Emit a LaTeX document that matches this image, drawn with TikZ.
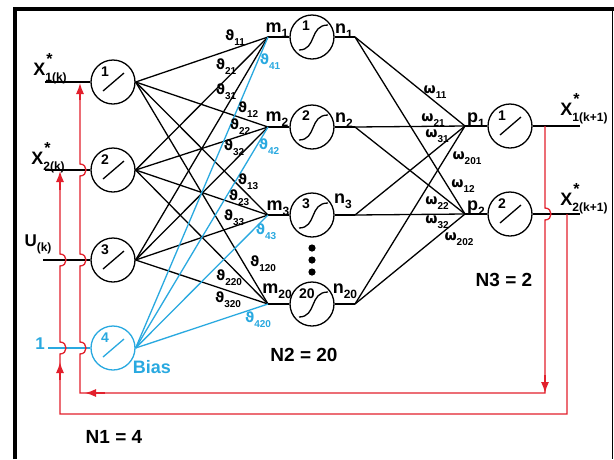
\documentclass[tikz,border=0pt]{standalone}
\usepackage{fontspec}
\setmainfont{Liberation Sans}
\newfontfamily\gk{DejaVu Sans}
\usetikzlibrary{arrows.meta}
\definecolor{cy}{HTML}{29A9E0}
\definecolor{rd}{HTML}{E2202C}
\newcommand\sbs[1]{\raisebox{-0.35em}{\fontsize{10}{10}\selectfont #1}}
\newcommand\wvt[1]{{\gk ϑ}\sbs{#1}}
\newcommand\wom[1]{{\gk ω}\sbs{#1}}
\newcommand\xlab[1]{X\rlap{\hspace{1pt}\raisebox{0.62em}{\fontsize{16}{16}\selectfont *}}\raisebox{-0.32em}{\fontsize{12}{12}\selectfont #1}}
\newcommand\msub[2]{#1\raisebox{-0.3em}{\fontsize{12}{12}\selectfont #2}}
\begin{document}
\begin{tikzpicture}[x=1pt,y=-1pt,
  every node/.style={font=\bfseries, inner sep=0pt},
  neu/.style={circle, draw, line width=1.3pt, minimum size=44pt, inner sep=0pt},
  wire/.style={line width=1.3pt, line join=round},
  cwire/.style={wire, draw=cy},
  rwire/.style={line width=1.3pt, draw=rd},
  rarrow/.style={rd, line width=1.3pt, -{Latex[length=11pt,width=8pt]}},
  numf/.style={font=\bfseries\fontsize{14}{14}\selectfont},
  wl/.style={font=\bfseries\fontsize{14}{14}\selectfont},
  bigl/.style={font=\bfseries\fontsize{18}{18}\selectfont},
  nl/.style={font=\bfseries\fontsize{19}{19}\selectfont}]
\useasboundingbox (0,0) rectangle (614,459);
\fill[white] (0,0) rectangle (614,459);
% frame
\draw[line width=3.5pt] (15,459) -- (15,9) -- (614,9);
\draw[line width=1pt] (612,9) -- (612,459);

% input neurons
\foreach \n/\y in {1/82,2/170,3/260}{
  \node[neu] (i\n) at (113,\y) {};
  \draw[wire] ([shift={(-10,9)}]i\n.center) -- ([shift={(11,-9)}]i\n.center);
  \node[numf] at ([shift={(-8,-10)}]i\n.center) {\n};
}
\node[neu, draw=cy] (i4) at (113,348) {};
\draw[cwire] ([shift={(-10,9)}]i4.center) -- ([shift={(11,-9)}]i4.center);
\node[numf, text=cy] at ([shift={(-8,-10)}]i4.center) {4};

% hidden neurons
\foreach \n/\y in {1/37,2/127,3/215,20/304}{
  \node[neu] (h\n) at (312,\y) {};
  \draw[wire] ([shift={(-13,13)}]h\n.center) .. controls ([shift={(5,13)}]h\n.center) and ([shift={(-3,-12)}]h\n.center) .. ([shift={(16,-12)}]h\n.center);
  \coordinate (m\n) at (268,\y);
  \coordinate (n\n) at (355,\y);
  \draw[wire] (m\n) -- (h\n.west);
  \draw[wire] (h\n.east) -- (n\n);
}
\foreach \n in {1,2,3}{\node[numf] at ([shift={(-6,-11)}]h\n.center) {\n};}
\node[numf] at ([shift={(-5,-10)}]h20.center) {20};

% output neurons
\foreach \n/\y in {1/126,2/214}{
  \node[neu] (o\n) at (510,\y) {};
  \draw[wire] ([shift={(-10,9)}]o\n.center) -- ([shift={(11,-9)}]o\n.center);
  \node[numf] at ([shift={(-8,-10)}]o\n.center) {\n};
  \coordinate (p\n) at (465,\y);
  \coordinate (x\n) at (580,\y);
  \draw[wire] (p\n) -- (o\n.west);
  \draw[wire] (o\n.east) -- (x\n);
}

% dots
\foreach \y in {248,260,272}{\fill (312,\y) circle (3.6);}

% input -> hidden
\foreach \i in {1,2,3}{
  \foreach \j in {1,2,3,20}{
    \draw[wire] (i\i.east) -- (m\j);
  }
}
\foreach \j in {1,2,3,20}{\draw[cwire] (i4.east) -- (m\j);}

% hidden -> output
\foreach \j in {1,2,3,20}{
  \draw[wire] (n\j) -- (p1);
  \draw[wire] (n\j) -- (p2);
}

% input wires
\coordinate (a1) at (45,82);
\coordinate (a2) at (45,170);
\coordinate (a3) at (43,260);
\coordinate (a4) at (48,348);
\draw[wire] (a1) -- (i1.west);
\draw[wire] (a2) -- (i2.west);
\draw[wire] (a3) -- (i3.west);
\draw[cwire] (a4) -- (i4.west);

% red feedback A
\draw[rwire] (545,126) -- (545,208) .. controls (553,208) and (553,220) .. (545,220) -- (545,393) -- (80,393)
  -- (80,354) .. controls (88,354) and (88,342) .. (80,342)
  -- (80,266) .. controls (88,266) and (88,254) .. (80,254)
  -- (80,176) .. controls (88,176) and (88,164) .. (80,164) -- (80,90);
\draw[rarrow] (545,375) -- (545,393);
\draw[rarrow] (105,393) -- (85,393);
\draw[rarrow] (80,100) -- (80,83);
% red feedback B
\draw[rwire] (567,214) -- (567,414) -- (60,414)
  -- (60,354) .. controls (68,354) and (68,342) .. (60,342)
  -- (60,266) .. controls (68,266) and (68,254) .. (60,254) -- (60,178);
\draw[rarrow] (60,380) -- (60,362);
\draw[rarrow] (60,190) -- (60,171);

% labels: inputs/outputs
\node[bigl] at (50,69) {\xlab{1(k)}};
\node[bigl] at (48,158) {\xlab{2(k)}};
\node[font=\bfseries\fontsize{17}{17}\selectfont] at (38,244) {U\raisebox{-0.3em}{\fontsize{12}{12}\selectfont (k)}};
\node[font=\bfseries\fontsize{17}{17}\selectfont, text=cy] at (40,344) {1};
\node[font=\bfseries\fontsize{18}{18}\selectfont, text=cy] at (152,367) {Bias};
\node[bigl] at (584,109) {\xlab{1(k+1)}};
\node[bigl] at (584,199) {\xlab{2(k+1)}};

% m, n, p labels
\node[bigl] at (277,30) {\msub{m}{1}};
\node[bigl] at (277,119) {\msub{m}{2}};
\node[bigl] at (278,208) {\msub{m}{3}};
\node[bigl] at (277,291) {\msub{m}{20}};
\node[bigl] at (344,31) {\msub{n}{1}};
\node[bigl] at (344,120) {\msub{n}{2}};
\node[bigl] at (343,201) {\msub{n}{3}};
\node[bigl] at (345,291) {\msub{n}{20}};
\node[bigl] at (476,120) {\msub{p}{1}};
\node[bigl] at (476,208) {\msub{p}{2}};

% theta labels
\node[wl] at (235,38) {\wvt{11}};
\node[wl] at (226,67) {\wvt{21}};
\node[wl] at (226,92) {\wvt{31}};
\node[wl, text=cy] at (270,62) {\wvt{41}};
\node[wl] at (248,110) {\wvt{12}};
\node[wl] at (240,127) {\wvt{22}};
\node[wl] at (234,148) {\wvt{32}};
\node[wl, text=cy] at (269,147) {\wvt{42}};
\node[wl] at (248,182) {\wvt{13}};
\node[wl] at (239,198) {\wvt{23}};
\node[wl] at (234,218) {\wvt{33}};
\node[wl, text=cy] at (266,232) {\wvt{43}};
\node[wl] at (263,264) {\wvt{120}};
\node[wl] at (229,278) {\wvt{220}};
\node[wl] at (228,300) {\wvt{320}};
\node[wl, text=cy] at (258,320) {\wvt{420}};

% omega labels
\node[wl] at (435,92) {\wom{11}};
\node[wl] at (433,120) {\wom{21}};
\node[wl] at (437,136) {\wom{31}};
\node[wl] at (467,158) {\wom{201}};
\node[wl] at (463,186) {\wom{12}};
\node[wl] at (437,203) {\wom{22}};
\node[wl] at (437,222) {\wom{32}};
\node[wl] at (459,239) {\wom{202}};

% layer sizes
\node[nl] at (114,437) {N1 = 4};
\node[nl] at (304,355) {N2 = 20};
\node[nl] at (504,280) {N3 = 2};
\end{tikzpicture}
\end{document}
